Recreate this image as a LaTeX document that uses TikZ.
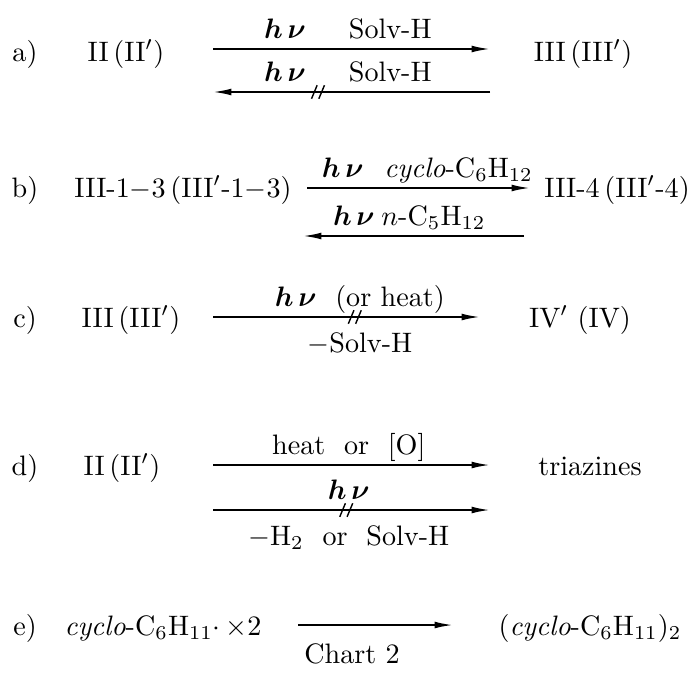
\documentclass[tikz,border=0pt]{standalone}
\usepackage{fontspec}
\usepackage{bm}
\usetikzlibrary{arrows.meta,decorations.markings}
\newcommand{\hnu}{$\bm{h\,\nu}$}
\newcommand{\spc}[1]{{\addfontfeature{LetterSpace=10}#1}}
\newcommand{\cyc}{\textit{\spc{cyclo}}}
\begin{document}
\begin{tikzpicture}[
    x=0.0125cm, y=-0.0125cm,
    >={Latex[length=2.3mm,width=0.85mm]},
    every node/.style={inner sep=0pt, anchor=base},
    rxn/.style={->, line width=0.65pt},
    up/.style={yshift=3.8pt},
    dn/.style={yshift=-12.5pt},
    blocked/.style={postaction={decorate}, decoration={markings,
      mark=at position #1 with {\draw[-,line width=0.5pt] (-2.2pt,-2.4pt) -- (-0.2pt,2.4pt) (0.4pt,-2.4pt) -- (2.4pt,2.4pt);}}}
  ]
  \useasboundingbox (0,0) rectangle (691,673);
  % a)
  \node (tagA) at (25,61) {a)};
  \node (srcA) at (126,61) {II\,(II$'$)};
  \node (prdA) at (583,61) {III\,(III$'$)};
  \coordinate (aF1) at (213,49);
  \coordinate (aF2) at (490,49);
  \coordinate (aB1) at (490,92);
  \coordinate (aB2) at (213,92);
  \draw[rxn] (aF1) -- node[pos=0.26,up] {\hnu} node[pos=0.64,up] {Solv-H} (aF2);
  \draw[rxn,blocked=0.62] (aB1) -- node[pos=0.74,up] {\hnu} node[pos=0.36,up] {Solv-H} (aB2);
  % b)
  \node (tagB) at (25,197) {b)};
  \node (srcB) at (183,197) {III-1$-$3\,(III$'$-1$-$3)};
  \node (prdB) at (617,197) {III-4\,(III$'$-4)};
  \coordinate (bF1) at (307,188);
  \coordinate (bF2) at (530,188);
  \coordinate (bB1) at (524,236);
  \coordinate (bB2) at (303,236);
  \draw[rxn] (bF1) -- node[pos=0.16,up] {\hnu} node[pos=0.68,up] {\cyc-C$_6$H$_{12}$} (bF2);
  \draw[rxn] (bB1) -- node[pos=0.77,up] {\hnu} node[pos=0.41,up] {$n$-C$_5$H$_{12}$} (bB2);
  % c)
  \node (tagC) at (25,327) {c)};
  \node (srcC) at (131,327) {III\,(III$'$)};
  \node (prdC) at (580,327) {IV$'$ (IV)};
  \coordinate (cF1) at (213,317);
  \coordinate (cF2) at (480,317);
  \draw[rxn,blocked=0.53] (cF1) -- node[pos=0.55,up] {\hnu\ \ (or \spc{heat})} node[pos=0.55,dn] {$-$Solv-H} (cF2);
  % d)
  \node (tagD) at (25,475) {d)};
  \node (srcD) at (122,475) {II\,(II$'$)};
  \node (prdD) at (590,475) {\spc{triazines}};
  \coordinate (dF1) at (213,465);
  \coordinate (dF2) at (490,465);
  \coordinate (dS1) at (213,510);
  \coordinate (dS2) at (490,510);
  \draw[rxn] (dF1) -- node[pos=0.49,up] {\spc{heat}\ \ or\ \ [O]} (dF2);
  \draw[rxn,blocked=0.48] (dS1) -- node[pos=0.49,up] {\hnu} node[pos=0.49,dn] {$-$H$_2$\ \ or\ \ Solv-H} (dS2);
  % e)
  \node (tagE) at (25,635) {e)};
  \node (srcE) at (163,635) {\cyc-C$_6$H$_{11}{\cdot}\,{\times}$2};
  \node (prdE) at (590,635) {(\cyc-C$_6$H$_{11}$)$_2$};
  \coordinate (eF1) at (298,625);
  \coordinate (eF2) at (453,625);
  \draw[rxn] (eF1) -- (eF2);
  \node (cap) at (352,663) {Chart 2};
\end{tikzpicture}
\end{document}
